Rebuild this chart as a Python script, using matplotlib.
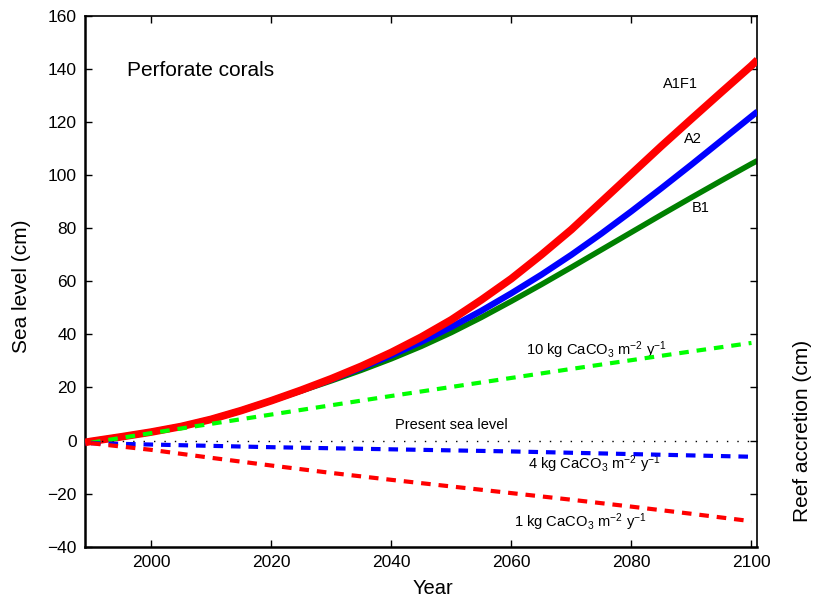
import matplotlib
matplotlib.use("Agg")
import matplotlib.pyplot as plt

plt.rcParams['font.family'] = ['Liberation Sans', 'DejaVu Sans']
plt.rcParams['mathtext.fontset'] = 'custom'
plt.rcParams['mathtext.rm'] = 'Liberation Sans'
plt.rcParams['mathtext.it'] = 'Liberation Sans'

# ---- data ----
years_solid = [1989, 1990, 1995, 2000, 2005, 2010, 2015, 2020, 2025, 2030, 2035, 2040,
               2045, 2050, 2055, 2060, 2065, 2070, 2075, 2080, 2085, 2090, 2095, 2100, 2101]
a1f1 = [-0.7, -0.3, 1.4, 3.2, 5.3, 8.0, 11.3, 15.0, 19.0, 23.3, 28.0, 33.2,
        39.0, 45.5, 53.0, 61.0, 70.0, 79.5, 90.0, 100.5, 111.0, 121.2, 131.3, 141.3, 143.5]
a2 = [-0.7, -0.3, 1.4, 3.2, 5.3, 8.0, 11.3, 15.0, 18.9, 23.0, 27.4, 32.1,
      37.2, 42.8, 48.9, 55.5, 62.5, 70.0, 78.0, 86.4, 95.1, 104.0, 113.1, 122.2, 124.0]
b1 = [-0.7, -0.3, 1.4, 3.2, 5.3, 8.0, 11.3, 15.0, 18.7, 22.5, 26.5, 30.8,
      35.5, 40.7, 46.4, 52.5, 58.8, 65.3, 71.9, 78.5, 85.1, 91.6, 98.0, 104.3, 105.5]

years_acc = [1990, 2000, 2010, 2020, 2030, 2040, 2050, 2060, 2070, 2080, 2090, 2100]
acc10 = [-0.8, 2.8, 6.3, 9.8, 13.3, 16.8, 20.2, 23.6, 27.0, 30.3, 33.6, 36.8]
acc4 = [-1.0, -1.5, -2.0, -2.5, -2.9, -3.3, -3.7, -4.1, -4.6, -5.1, -5.6, -6.1]
acc1 = [-1.0, -3.5, -6.5, -9.4, -12.2, -14.8, -17.3, -19.8, -22.3, -24.9, -27.6, -30.4]

present_years = [1990, 2100]
present_level = [0, 0]

xticks = [2000, 2020, 2040, 2060, 2080, 2100]
yticks = [-40, -20, 0, 20, 40, 60, 80, 100, 120, 140, 160]

# ---- figure ----
fig = plt.figure(figsize=(8.13, 5.98), dpi=100)
ax = fig.add_axes([0.1046, 0.0858, 0.9317 - 0.1046, 0.9732 - 0.0858])

ax.plot(years_solid, b1, color=(0, 0.5, 0), lw=4.0, solid_capstyle='butt',
        solid_joinstyle='round', zorder=2)
ax.plot(years_solid, a2, color=(0, 0, 1), lw=4.5, solid_capstyle='butt',
        solid_joinstyle='round', zorder=3)
ax.plot(years_solid, a1f1, color=(1, 0, 0), lw=5.5, solid_capstyle='butt',
        solid_joinstyle='round', zorder=4)

ax.plot(present_years, present_level, color='black', lw=1.0,
        linestyle=(0, (1, 6.5)), zorder=5)

dash = (2.3, 1.9)
ax.plot(years_acc, acc10, color=(0, 1, 0), lw=3.0, dashes=dash, zorder=6)
ax.plot(years_acc, acc4, color=(0, 0, 1), lw=3.0, dashes=dash, zorder=6)
ax.plot(years_acc, acc1, color=(1, 0, 0), lw=3.0, dashes=dash, zorder=6)

ax.set_xlim(1989, 2101)
ax.set_ylim(-40, 160)
ax.set_xticks(xticks)
ax.set_yticks(yticks)
ax.set_yticklabels([str(v).replace('-', '\u2212') for v in yticks])
ax.tick_params(direction='in', length=5, width=1, labelsize=12.5,
               top=True, right=True, pad=6)
for s in ax.spines.values():
    s.set_linewidth(1.2)
ax.spines['left'].set_linewidth(1.8)
ax.spines['bottom'].set_linewidth(1.8)

# annotations
ax.text(1996.05, 139.4, 'Perforate corals', fontsize=15, ha='left', va='center')
ax.text(2085.3, 134.4, 'A1F1', fontsize=10.5, ha='left', va='center')
ax.text(2088.8, 113.8, 'A2', fontsize=10.5, ha='left', va='center')
ax.text(2090.0, 87.6, 'B1', fontsize=10.5, ha='left', va='center')
ax.text(2062.5, 32.3, r'10 kg CaCO$_3$ m$^{-2}$ y$^{-1}$', fontsize=10.6,
        ha='left', va='baseline')
ax.text(2040.7, 4.3, 'Present sea level', fontsize=10.5, ha='left', va='baseline')
ax.text(2062.7, -10.8, r'4 kg CaCO$_3$ m$^{-2}$ y$^{-1}$', fontsize=10.6,
        ha='left', va='baseline')
ax.text(2060.4, -32.5, r'1 kg CaCO$_3$ m$^{-2}$ y$^{-1}$', fontsize=10.6,
        ha='left', va='baseline')

fig.text(21.5 / 813, (598 - 286) / 598, 'Sea level (cm)', fontsize=15,
         rotation=90, ha='center', va='center')
fig.text(802 / 813, (598 - 431) / 598, 'Reef accretion (cm)', fontsize=15,
         rotation=90, ha='center', va='center')
fig.text(432.5 / 813, (598 - 588) / 598, 'Year', fontsize=14.5,
         ha='center', va='center')

fig.savefig('out.png', dpi=100)
